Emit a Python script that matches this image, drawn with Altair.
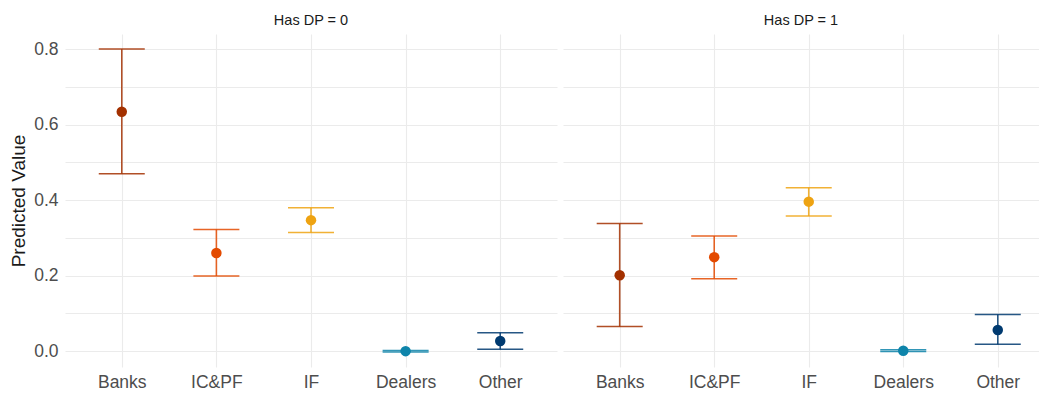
import altair as alt
import pandas as pd

# Predicted values with confidence intervals by investor type, split by DP status
groups = ["Banks", "IC&PF", "IF", "Dealers", "Other"]
colors = ["#A33000", "#E34A00", "#EEA312", "#0E84AA", "#003A70"]

dp0_est = [0.634, 0.260, 0.347, 0.000, 0.027]
dp0_lo = [0.470, 0.199, 0.314, -0.002, 0.005]
dp0_hi = [0.800, 0.322, 0.380, 0.002, 0.049]

dp1_est = [0.201, 0.249, 0.396, 0.001, 0.056]
dp1_lo = [0.065, 0.192, 0.358, -0.001, 0.018]
dp1_hi = [0.338, 0.305, 0.433, 0.004, 0.097]

y_ticks = [0.0, 0.1, 0.2, 0.3, 0.4, 0.5, 0.6, 0.7, 0.8]

FONT = "Liberation Sans"
GRID = "#EBEBEB"


def frame(est, lo, hi):
    return pd.DataFrame({"group": groups, "est": est, "lo": lo, "hi": hi})


def panel(df, title, width, pad, align, show_y):
    x = alt.X(
        "group:N",
        sort=groups,
        scale=alt.Scale(type="point", padding=pad, align=align),
        axis=alt.Axis(
            title=None, labelAngle=0, labelFontSize=17.5, labelColor="#4D4D4D",
            labelFont=FONT, ticks=False, domain=False, grid=True,
            gridColor=GRID, gridWidth=1.1, labelPadding=6,
        ),
    )
    y_axis = alt.Axis(
        values=y_ticks,
        labelExpr="(round(datum.value * 10) % 2 == 0) ? format(datum.value, '.1f') : ''",
        grid=True, gridColor=GRID, gridWidth=1.1, ticks=False, domain=False,
        labelFontSize=17.5, labelColor="#4D4D4D", labelFont=FONT, labelPadding=7,
        title="Predicted Value" if show_y else None,
        titleFontSize=19, titleFont=FONT, titleColor="#1A1A1A",
        titleFontWeight="normal", titlePadding=5,
        labels=show_y,
    )
    y_scale = alt.Scale(domain=[-0.042, 0.84], nice=False, zero=False)

    def y(field):
        return alt.Y(f"{field}:Q", scale=y_scale, axis=y_axis)

    color = alt.Color("group:N", scale=alt.Scale(domain=groups, range=colors), legend=None)

    base = alt.Chart(df)
    stem = base.mark_rule(strokeWidth=1.6, opacity=0.85).encode(
        x=x, y=y("lo"), y2="hi:Q", color=color
    )
    cap_hi = base.mark_tick(thickness=1.5, size=46, orient="horizontal", opacity=0.85).encode(
        x=x, y=y("hi"), color=color
    )
    cap_lo = base.mark_tick(thickness=1.5, size=46, orient="horizontal", opacity=0.85).encode(
        x=x, y=y("lo"), color=color
    )
    pts = base.mark_circle(size=110, opacity=1).encode(x=x, y=y("est"), color=color)
    return alt.layer(stem, cap_hi, cap_lo, pts).properties(
        width=width, height=333,
        view=alt.ViewBackground(stroke="transparent", strokeWidth=0),
        title=alt.TitleParams(title, fontSize=14.5, font=FONT, color="#1A1A1A",
                              fontWeight="normal", offset=6),
    )


left = panel(frame(dp0_est, dp0_lo, dp0_hi), "Has DP = 0", 492, 0.6, 0.5, True)
right = panel(frame(dp1_est, dp1_lo, dp1_hi), "Has DP = 1", 476, 0.518, 0.579, False)

chart = (
    alt.hconcat(left, right, spacing=6)
    .resolve_scale(x="independent", y="shared")
    .configure_view(strokeWidth=0, stroke="transparent")
    .configure(padding={"left": 9, "top": 12, "right": 0, "bottom": 0}, background="white")
)

chart.save("out.html", embed_options={"renderer": "svg", "actions": False})
